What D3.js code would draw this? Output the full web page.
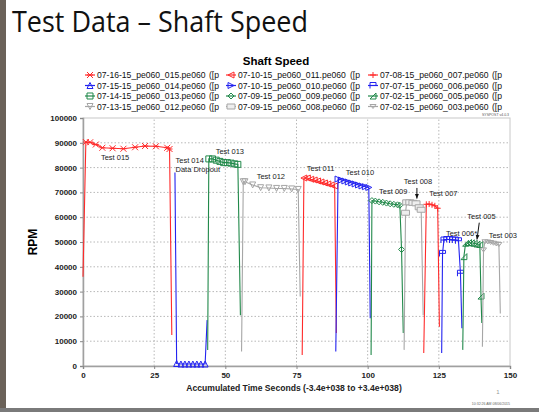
<!DOCTYPE html>
<html>
<head>
<meta charset="utf-8">
<script src="https://cdn.jsdelivr.net/npm/d3@7"></script>
<style>
	body { margin: 0; background: #fff; }
	svg { display: block; }
	text { font-family: "Liberation Sans", Arial, sans-serif; }
</style>
</head>
<body>
<svg id="chart" width="539" height="412"></svg>
<script>
// x ticks / y ticks
const xTicks = [0, 25, 50, 75, 100, 125, 150];
const yTicks = [0, 10000, 20000, 30000, 40000, 50000, 60000, 70000, 80000, 90000, 100000];

// series data, [seconds, rpm]
const test015 = [[0,36000],[1,90300],[2.5,90200],[4.5,89300],[6.8,88000],[10.4,87800],[14.2,87600],[18.3,88200],[21.8,88700],[25.6,88600],[29.6,88000],[30.4,87500],[31.2,12500]];
const test014 = [[32.3,78000],[32.9,1000],[34.4,800],[35.8,800],[37.2,800],[38.6,800],[40,800],[41.4,800],[42.9,800],[43.6,18500]];
const test013 = [[43.8,6500],[44.2,83500],[45.5,83500],[46.8,83000],[48.1,82500],[49.4,82000],[50.7,82000],[52,81800],[53.3,81500],[54.4,81300],[55.3,20500]];
const test012 = [[55.7,5800],[56.3,74300],[56.9,74300],[59.6,73000],[62.4,71900],[65.3,71800],[68,71600],[70.7,71600],[73.3,71400],[75.6,71200],[76.3,28000]];
const test011 = [[77,4400],[77.6,75800],[78.8,75800],[80,75300],[81.2,75000],[82.4,74600],[83.6,74200],[84.8,73800],[86,73400],[87.2,73000],[88.4,72600],[89,13300]];
const test010 = [[88.8,5800],[89.6,75400],[90.8,75000],[92,74600],[93.2,74200],[94.4,73800],[95.6,73400],[96.8,73000],[98,72600],[99.2,72300],[100.4,72000],[100.9,19300]];
const test009 = [[101.2,4400],[101.5,66700],[102.7,66500],[104,66200],[105.3,66000],[106.6,65700],[107.9,65400],[109.2,65200],[110.5,65000],[111.3,64800],[111.9,47000],[112.5,13300]];
const test008 = [[112.8,6500],[113.3,61800],[113.7,66000],[114.8,66000],[115.9,65800],[117,65600],[118.1,64000],[118.8,63000],[119.5,20500]];
const test007 = [[119.7,5200],[120.6,65200],[121.6,65300],[122.6,65000],[123.6,64600],[124.6,63600],[125.2,15800]];
const test006 = [[126,5200],[126.3,45400],[126.8,50800],[127.8,51000],[128.8,51000],[129.8,50800],[130.8,50800],[131.9,50500],[132.6,37400],[133.1,15200]];
const test005 = [[133.4,6500],[133.8,44100],[134.4,49500],[135.4,49800],[136.4,49700],[137.4,49500],[138.4,49200],[139.4,49000],[139.8,28200],[140.1,17300]];
const test003 = [[140.3,7800],[140.7,46800],[141.2,50100],[142.2,50000],[143.2,49800],[144.2,49500],[145.2,49200],[146.1,49000],[146.6,21200]];

// legend file names (row by row)
const fileNames = [
	'07-16-15_pe060_015.pe060', '07-10-15_pe060_011.pe060', '07-08-15_pe060_007.pe060',
	'07-15-15_pe060_014.pe060', '07-10-15_pe060_010.pe060', '07-07-15_pe060_006.pe060',
	'07-14-15_pe060_013.pe060', '07-09-15_pe060_009.pe060', '07-02-15_pe060_005.pe060',
	'07-13-15_pe060_012.pe060', '07-09-15_pe060_008.pe060', '07-02-15_pe060_003.pe060'
];

// annotation labels [text, seconds, rpm]
const labels = [
	['Test 015', 6.3, 83000],
	['Test 014', 32.5, 81900],
	['Data Dropout', 32.5, 78300],
	['Test 013', 46.6, 85300],
	['Test 012', 61, 75600],
	['Test 011', 78.6, 78600],
	['Test 010', 92.3, 77200],
	['Test 009', 104, 69500],
	['Test 008', 112.7, 73400],
	['Test 007', 121.6, 68600],
	['Test 006*', 127.5, 52400],
	['Test 005', 135, 59300],
	['Test 003', 142.5, 51600]
];

const RED = '#ff2a2a', BLUE = '#2323f0', GREEN = '#21894a', GRAY = '#a6a6a6';

const series = [
	{ data: test015, color: RED, mk: 'x' },
	{ data: test011, color: RED, mk: 'larrow' },
	{ data: test007, color: RED, mk: 'plus' },
	{ data: test014, color: BLUE, mk: 'tri' },
	{ data: test010, color: BLUE, mk: 'rtri' },
	{ data: test006, color: BLUE, mk: 'flag' },
	{ data: test013, color: GREEN, mk: 'square' },
	{ data: test009, color: GREEN, mk: 'diamond' },
	{ data: test005, color: GREEN, mk: 'halftri' },
	{ data: test012, color: GRAY, mk: 'dtri' },
	{ data: test008, color: GRAY, mk: 'rect' },
	{ data: test003, color: GRAY, mk: 'dtri2' }
];

function markerPath(type) {
	const s = 3;
	switch (type) {
		case 'x': return `M${-s},${-s}L${s},${s}M${-s},${s}L${s},${-s}M${-s},0L${s},0`;
		case 'larrow': return `M${-s},0L${s},${-s}L${s},${s}Z`;
		case 'plus': return `M${-s},0L${s},0M0,${-s}L0,${s}`;
		case 'tri': return `M0,${-s}L${s},${s}L${-s},${s}Z`;
		case 'rtri': return `M${s},0L${-s},${-s}L${-s},${s}Z`;
		case 'flag': return `M${-s},${s}L${-s},${-s}L${s},${-s}L${s},0L${-s},0`;
		case 'square': return `M${-s},${-s}L${s},${-s}L${s},${s}L${-s},${s}Z`;
		case 'diamond': return `M0,${-s}L${s},0L0,${s}L${-s},0Z`;
		case 'halftri': return `M${-s},${s}L${s},${-s}L${s},${s}Z`;
		case 'dtri': return `M${-s},${-s}L${s},${-s}L0,${s}Z`;
		case 'rect': return `M${-4},${-2.5}L4,${-2.5}L4,2.5L${-4},2.5Z`;
		case 'dtri2': return `M${-s},${-s+1}L${s},${-s+1}L0,${s-1}Z`;
	}
}

const svg = d3.select('#chart');

// slide chrome
svg.append('rect').attr('x', 0).attr('y', 0).attr('width', 539).attr('height', 412).attr('fill', '#fff');
svg.append('rect').attr('x', 0).attr('y', 0).attr('width', 6).attr('height', 412).attr('fill', '#6b6259');
svg.append('rect').attr('x', 0).attr('y', 408).attr('width', 539).attr('height', 4).attr('fill', '#7a7a7a');

svg.append('text')
	.attr('x', 12).attr('y', 32)
	.attr('textLength', 296).attr('lengthAdjust', 'spacingAndGlyphs')
	.style('font-family', '"Open Sans", sans-serif')
	.style('font-size', '30px')
	.style('fill', '#111')
	.text('Test Data \u2013 Shaft Speed');

svg.append('text')
	.attr('x', 276).attr('y', 65)
	.attr('text-anchor', 'middle')
	.style('font-size', '11.5px').style('font-weight', 'bold')
	.text('Shaft Speed');

// scales
const x = d3.scaleLinear().domain([0, 150]).range([83, 510]);
const y = d3.scaleLinear().domain([0, 100000]).range([366, 118]);

// grid
const grid = svg.append('g');
grid.selectAll('line.h').data(yTicks.slice(1, -1)).enter().append('line')
	.attr('x1', x(0)).attr('x2', x(150))
	.attr('y1', d => y(d)).attr('y2', d => y(d))
	.attr('stroke', '#b8b8b8').attr('stroke-dasharray', '1.5,2');
grid.selectAll('line.v').data(xTicks.slice(1, -1)).enter().append('line')
	.attr('y1', y(0)).attr('y2', y(100000))
	.attr('x1', d => x(d)).attr('x2', d => x(d))
	.attr('stroke', '#b8b8b8').attr('stroke-dasharray', '1.5,2');

svg.append('rect')
	.attr('x', x(0)).attr('y', y(100000))
	.attr('width', x(150) - x(0)).attr('height', y(0) - y(100000))
	.attr('fill', 'none').attr('stroke', '#c8c8c8');

// axes
const yAxis = d3.axisLeft(y).tickValues(yTicks).tickSize(3).tickFormat(d3.format('d'));
const xAxis = d3.axisBottom(x).tickValues(xTicks).tickSize(3).tickFormat(d3.format('d'));

const gy = svg.append('g').attr('transform', `translate(${x(0)},0)`).call(yAxis);
const gx = svg.append('g').attr('transform', `translate(0,${y(0)})`).call(xAxis);
[gy, gx].forEach(g => {
	g.select('.domain').attr('stroke', '#a0a0a0').attr('stroke-width', 1.5);
	g.selectAll('.tick line').attr('stroke', '#888');
	g.selectAll('.tick text')
		.style('font-family', '"Liberation Sans", Arial, sans-serif')
		.style('font-size', '8px').style('font-weight', 'bold').attr('fill', '#222');
});

svg.append('text')
	.attr('transform', 'translate(37,242) rotate(-90)')
	.attr('text-anchor', 'middle')
	.style('font-size', '12px').style('font-weight', 'bold')
	.text('RPM');

svg.append('text')
	.attr('x', 294).attr('y', 391)
	.attr('text-anchor', 'middle')
	.style('font-size', '8.6px').style('font-weight', 'bold').attr('fill', '#222')
	.text('Accumulated Time Seconds (-3.4e+038 to +3.4e+038)');

svg.append('text').attr('x', 509).attr('y', 116).attr('text-anchor', 'end')
	.style('font-size', '3.5px').attr('fill', '#555').text('SYSPOST v4.0.3');
svg.append('text').attr('x', 498).attr('y', 394).attr('text-anchor', 'middle')
	.style('font-size', '6px').attr('fill', '#999').text('1');
svg.append('text').attr('x', 510).attr('y', 405).attr('text-anchor', 'end')
	.style('font-size', '3.5px').attr('fill', '#666').text('10:32:26 AM 08/06/2015');

// lines + markers
const line = d3.line().x(d => x(d[0])).y(d => y(d[1]));
const plot = svg.append('g');
series.forEach(s => {
	plot.append('path')
		.datum(s.data)
		.attr('d', line)
		.attr('fill', 'none')
		.attr('stroke', s.color)
		.attr('stroke-width', 1.1);
	plot.selectAll(null)
		.data(s.data.slice(1, -1))
		.enter().append('path')
		.attr('transform', d => `translate(${x(d[0])},${y(d[1])})`)
		.attr('d', markerPath(s.mk))
		.attr('fill', s.mk === 'rect' ? '#eee' : 'none')
		.attr('stroke', s.color)
		.attr('stroke-width', 1);
});

// annotations
svg.selectAll('text.lbl').data(labels).enter().append('text')
	.attr('class', 'lbl')
	.attr('x', d => x(d[1])).attr('y', d => y(d[2]))
	.style('font-size', '7.5px').attr('fill', '#222')
	.text(d => d[0]);

function arrow(x1, y1, x2, y2) {
	svg.append('line').attr('x1', x1).attr('y1', y1).attr('x2', x2).attr('y2', y2)
		.attr('stroke', '#111').attr('stroke-width', 1);
	const a = Math.atan2(y2 - y1, x2 - x1);
	const p = [[x2, y2],
		[x2 - 5 * Math.cos(a - 0.4), y2 - 5 * Math.sin(a - 0.4)],
		[x2 - 5 * Math.cos(a + 0.4), y2 - 5 * Math.sin(a + 0.4)]];
	svg.append('path').attr('d', 'M' + p.join('L') + 'Z').attr('fill', '#111');
}
arrow(x(117.3), y(73000) + 3, x(117.3), y(67500));
arrow(x(139.2), y(59000) + 3, x(138.4), y(51000));

// legend
const legend = svg.append('g');
const colX = [85, 226, 368];
const rowY = [75, 85.5, 96, 106.5];
fileNames.forEach((name, i) => {
	const col = i % 3, row = Math.floor(i / 3);
	const s = series[i];
	const g = legend.append('g').attr('transform', `translate(${colX[col]},${rowY[row]})`);
	g.append('line').attr('x1', 0).attr('x2', 10).attr('y1', 0).attr('y2', 0)
		.attr('stroke', s.color).attr('stroke-width', 1.2);
	g.append('path').attr('transform', 'translate(5,0)').attr('d', markerPath(s.mk))
		.attr('fill', s.mk === 'rect' ? '#eee' : 'none').attr('stroke', s.color);
	g.append('text').attr('x', 12).attr('y', 3)
		.style('font-size', '8.6px').attr('fill', '#111')
		.text(name);
	g.append('text').attr('x', 124).attr('y', 3)
		.style('font-size', '8.6px').attr('fill', '#111')
		.text('([p');
});
</script>
</body>
</html>
